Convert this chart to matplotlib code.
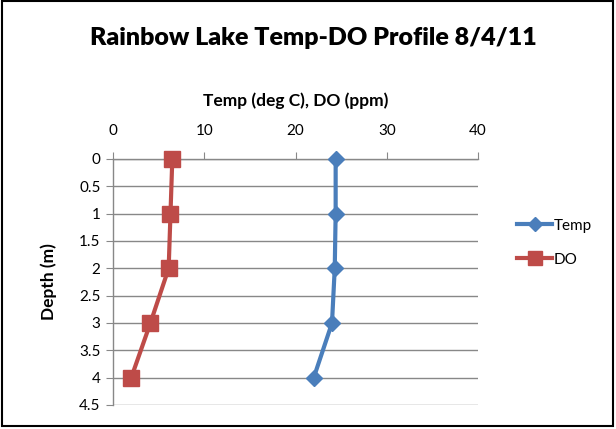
import matplotlib
matplotlib.use("Agg")
import matplotlib.pyplot as plt
from matplotlib.patches import Rectangle

depth = [0, 1, 2, 3, 4]
temp = [24.4, 24.4, 24.3, 24.0, 22.0]
do_ppm = [6.5, 6.3, 6.1, 4.1, 2.0]
x_ticks = [0, 10, 20, 30, 40]
y_ticks = [0, 0.5, 1, 1.5, 2, 2.5, 3, 3.5, 4, 4.5]
y_ticklabels = ["0", "0.5", "1", "1.5", "2", "2.5", "3", "3.5", "4", "4.5"]

plt.rcParams['font.family'] = ['Lato', 'DejaVu Sans']

fig = plt.figure(figsize=(6.16, 4.29), dpi=100)
fig.patches.append(Rectangle((0.003, 0.007), 0.992, 0.99, transform=fig.transFigure,
                             fill=False, edgecolor='black', linewidth=1.5))
ax = fig.add_axes([113/616, 1 - 405/429, (478-113)/616, (405-159)/429])

ax.plot(temp, depth, color='#4A7EBB', linewidth=3, marker='D', markersize=8,
        label='Temp', zorder=3, clip_on=False)
ax.plot(do_ppm, depth, color='#BE4B48', linewidth=3, marker='s', markersize=11,
        label='DO', zorder=3, clip_on=False)

ax.set_xlim(0, 40)
ax.set_ylim(4.5, 0)
ax.set_xticks(x_ticks)
ax.set_yticks(y_ticks)
ax.set_yticklabels(y_ticklabels)
ax.xaxis.tick_top()
ax.xaxis.set_label_position('top')
ax.tick_params(axis='x', direction='out', length=5, color='#888888', labelsize=11, pad=10)
ax.tick_params(axis='y', direction='out', length=5, color='#888888', labelsize=11, pad=4)
for t in ax.get_xticklabels() + ax.get_yticklabels():
    t.set_color('black')
ax.yaxis.grid(True, color='#888888', linewidth=1)
ax.set_axisbelow(True)
for s in ['right', 'bottom']:
    ax.spines[s].set_visible(False)
ax.spines['top'].set_color('#888888')
ax.spines['left'].set_color('#888888')
ax.spines['top'].set_linewidth(1)
ax.spines['left'].set_linewidth(1)

ax.set_xlabel('Temp (deg C), DO (ppm)', fontsize=12.5, fontweight='bold', labelpad=13)
ax.set_ylabel('Depth (m)', fontsize=12.5, fontweight='bold', labelpad=16)

fig.text(0.5 * (95 + 532) / 616, 1 - 38/429, 'Rainbow Lake Temp-DO Profile 8/4/11',
         ha='center', va='center', fontsize=18, fontweight='heavy')

ax.legend(loc='center left', bbox_to_anchor=(1.07, 0.66), frameon=False,
          fontsize=11, handlelength=2.3, handletextpad=0.1, labelspacing=1.3,
          markerscale=0.9)

fig.savefig('out.png', dpi=100)
